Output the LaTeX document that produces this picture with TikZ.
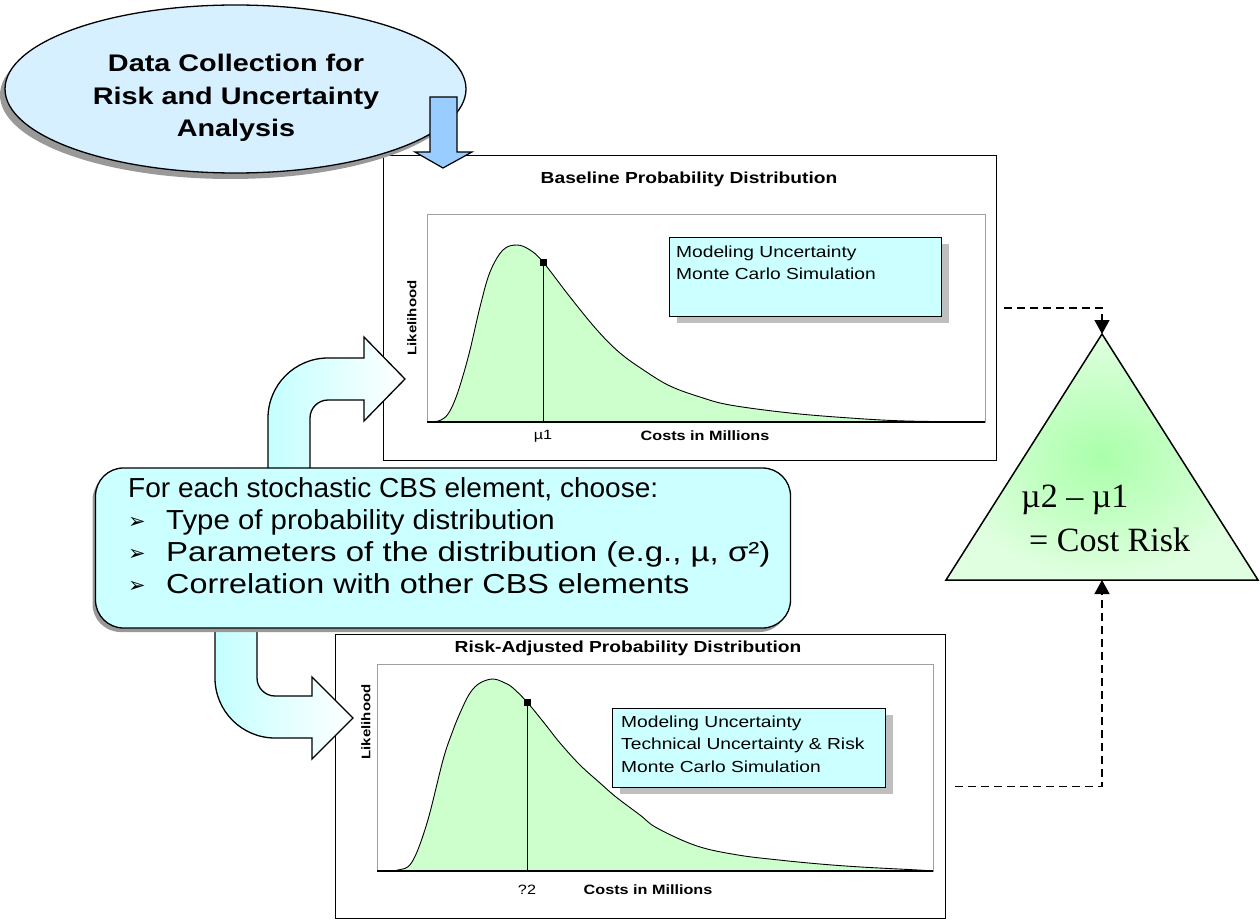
\documentclass[tikz,border=0pt]{standalone}
\usepackage{graphicx}
\usepackage{fontspec}
\setmainfont{Liberation Sans}
\newfontfamily\wsans[FakeStretch=1.2]{Liberation Sans}
\newfontfamily\serifface{Liberation Serif}
\newfontfamily\symface{DejaVu Sans}
\usetikzlibrary{shapes.geometric,shadows,arrows.meta}

\definecolor{ellfill}{RGB}{214,240,255}
\definecolor{bluearrow}{RGB}{153,204,255}
\definecolor{cyanbox}{RGB}{204,255,255}
\definecolor{arrowcyan}{RGB}{196,255,255}
\definecolor{curvegreen}{RGB}{204,255,204}
\definecolor{trigreen}{RGB}{170,255,170}
\definecolor{trilight}{RGB}{224,255,224}
\definecolor{framegray}{RGB}{160,160,160}

\newcommand{\tipbullet}{\makebox[38pt][l]{\raisebox{1pt}{\symface\fontsize{21}{21}\selectfont ➢}}}

\begin{document}
\begin{tikzpicture}[x=1pt,y=-1pt,
  outerframe/.style={draw=black, line width=1.3pt, fill=white, anchor=north west, inner sep=0pt},
  plotframe/.style={draw=framegray, line width=0.9pt},
  curve/.style={draw=black, line width=0.9pt, fill=curvegreen},
  axisline/.style={draw=black, line width=1.5pt},
  meanline/.style={draw=black, line width=0.9pt},
  meanmark/.style={fill=black, inner sep=0pt, minimum size=7pt},
  charttitle/.style={font=\wsans\bfseries\fontsize{16}{19}\selectfont},
  axislabel/.style={font=\wsans\bfseries\fontsize{13.5}{16}\selectfont},
  meanlabel/.style={font=\wsans\fontsize{13.5}{16}\selectfont},
  ylabel/.style={font=\wsans\bfseries\fontsize{12.5}{15}\selectfont, rotate=90},
  infobox/.style={draw=black, line width=0.9pt, fill=cyanbox, anchor=north west, inner sep=0pt,
    drop shadow={shadow xshift=8pt, shadow yshift=-7pt, fill=gray!50, opacity=1}},
  infotext/.style={font=\wsans\fontsize{16}{22.5}\selectfont, align=left, anchor=north west, inner sep=0pt},
  blockarrow/.style={draw=black, line width=1.3pt, left color=arrowcyan, right color=white},
  dasharrow/.style={draw=black, line width=1.5pt, dash pattern=on 8pt off 5pt,
    -{Triangle[length=14pt,width=15pt]}},
  ell/.style={ellipse, draw=black, line width=1.3pt, fill=ellfill, inner sep=0pt,
    minimum width=461pt, minimum height=168pt,
    drop shadow={shadow xshift=-5pt, shadow yshift=-6pt, fill=gray!80, opacity=1}},
  elltext/.style={font=\wsans\bfseries\fontsize{24}{32.5}\selectfont, align=center},
  choosebox/.style={rectangle, rounded corners=28pt, draw=black, line width=1.3pt, fill=cyanbox,
    minimum width=695pt, minimum height=160pt, inner sep=0pt,
    drop shadow={shadow xshift=-3pt, shadow yshift=-4pt, fill=gray!80, opacity=1}},
  choosetext/.style={font=\wsans\fontsize{27.5}{32}\selectfont, align=left, anchor=north west, inner sep=0pt},
  tritext/.style={font=\serifface\fontsize{34}{44}\selectfont, align=left, anchor=north west, inner sep=0pt},
]
\useasboundingbox (0,0) rectangle (1260,920);

% ---------- baseline distribution chart ----------
\node[outerframe, minimum width=613pt, minimum height=305pt] (base) at (383,155) {};
\node[charttitle] (basetitle) at (689,179) {Baseline Probability Distribution};
\draw[plotframe] (427,214) rectangle (985,422);
\draw[curve] plot[smooth, tension=0.6] coordinates {(433,422) (441,420) (448,414) (455,400) (462,379)
  (470,350) (480,307) (490,272) (503,250) (517,245) (530,250) (543,262) (570,297) (597,330)
  (620,353) (645,371) (670,386) (700,397) (730,405) (790,413) (850,418) (906,421) (985,422)} -- cycle;
\node[meanmark] (mu1mark) at (543,262) {};
\draw[meanline] (mu1mark.center) -- (543,422);
\draw[axisline] (427,422) -- (985,422);
\node[infobox, minimum width=272pt, minimum height=79pt] (basebox) at (669,237) {};
\node[infotext] (baseboxtxt) at (676,245.5) {Modeling Uncertainty\\Monte Carlo Simulation};
\node[ylabel] (baselik) at (412,318) {Likelihood};
\node[meanlabel] (mu1lab) at (543,436) {µ1};
\node[axislabel] (basecost) at (705,436) {Costs in Millions};

% ---------- risk-adjusted distribution chart ----------
\node[outerframe, minimum width=610pt, minimum height=284pt] (risk) at (335,634) {};
\node[charttitle] (risktitle) at (628,648) {Risk-Adjusted Probability Distribution};
\draw[plotframe] (377,664) rectangle (933,871);
\draw[curve] plot[smooth, tension=0.6] coordinates {(380,871) (398,870) (412,862) (427,823) (443,760)
  (452,733) (460,713) (470,693) (480,683) (493,679) (505,683) (513,688) (527,702) (545,724)
  (560,743) (580,765) (600,783) (616,797) (640,815) (657,828) (697,846) (738,855) (779,860)
  (820,864) (861,867) (918,870) (933,871)} -- cycle;
\node[meanmark] (mu2mark) at (527,702) {};
\draw[meanline] (mu2mark.center) -- (527,871);
\draw[axisline] (377,871) -- (933,871);
\node[infobox, minimum width=273pt, minimum height=79pt] (riskbox) at (612,708) {};
\node[infotext] (riskboxtxt) at (621,715.5) {Modeling Uncertainty\\Technical Uncertainty \& Risk\\Monte Carlo Simulation};
\node[ylabel] (risklik) at (366,722) {Likelihood};
\node[meanlabel] (mu2lab) at (527,890) {?2};
\node[axislabel] (riskcost) at (648,890) {Costs in Millions};

% ---------- bent block arrows out of the parameter box ----------
\shadedraw[blockarrow] (268,480) -- (268,418) .. controls (268,384.9) and (294.9,358) .. (328,358)
  -- (364,358) -- (364,337) -- (405,379) -- (364,421) -- (364,400) -- (328,400)
  .. controls (318.1,400) and (310,408.1) .. (310,418) -- (310,480) -- cycle;
\shadedraw[blockarrow] (215,620) -- (215,678) .. controls (215,711.1) and (241.9,738) .. (275,738)
  -- (312,738) -- (312,759) -- (353,718) -- (312,677) -- (312,696) -- (275,696)
  .. controls (265.1,696) and (257,687.9) .. (257,678) -- (257,620) -- cycle;

% ---------- parameter box ----------
\node[choosebox] (choose) at (443,548) {};
\node[choosetext] (choosetxt) at (128,477.5) {\scalebox{0.85}[1]{For each stochastic CBS element, choose:}\\
  \tipbullet\scalebox{0.89}[1]{Type of probability distribution}\\
  \tipbullet Parameters of the distribution (e.g., µ, σ²)\\
  \tipbullet\scalebox{0.98}[1]{Correlation with other CBS elements}};

% ---------- data collection ellipse ----------
\node[ell] (collect) at (235.5,89) {};
\node[elltext] (collecttxt) at (236,98) {Data Collection for\\Risk and Uncertainty\\Analysis};
\filldraw[fill=bluearrow, draw=black, line width=1.2pt] (430,97) -- (457,97) -- (457,152) -- (472,152)
  -- (443,168) -- (415,152) -- (430,152) -- cycle;

% ---------- cost risk triangle ----------
\coordinate (apex) at (1102,334);
\coordinate (triL) at (946,580);
\coordinate (triR) at (1258,580);
\coordinate (tribase) at (1102,580);
\shadedraw[inner color=trigreen, outer color=trilight, draw=black, line width=1.5pt]
  (apex) -- (triR) -- (triL) -- cycle;
\node[tritext] (risktxt) at (1021,485) {µ2 – µ1\\\hspace*{8pt}= Cost Risk};

% ---------- dashed connectors ----------
\draw[dasharrow] ([xshift=7pt]base.east) -| (apex);
\draw[dasharrow] ([shift={(9pt,-10pt)}]risk.east) -| (tribase);
\end{tikzpicture}
\end{document}
